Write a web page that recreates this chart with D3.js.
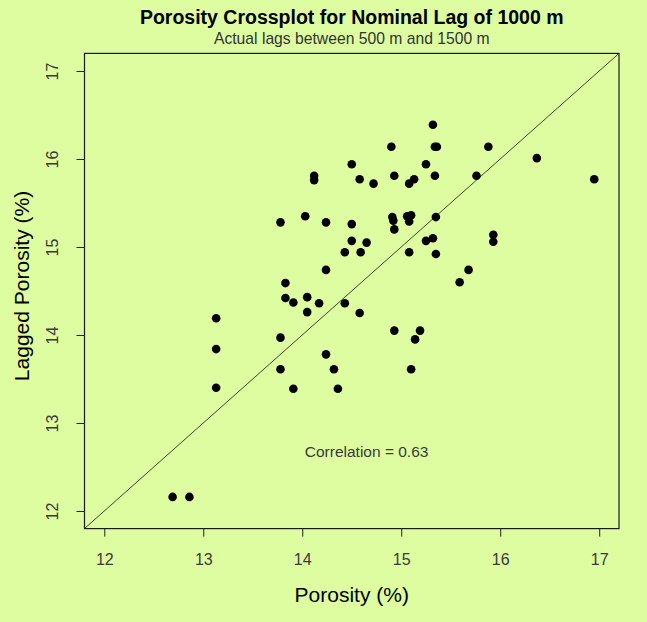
<!DOCTYPE html>
<html>
<head>
<meta charset="utf-8">
<script src="https://cdn.jsdelivr.net/npm/d3@7"></script>
<style>
  html, body { margin: 0; padding: 0; background: #ddfda0; }
  svg { display: block; }
  text { font-family: "Liberation Sans", Arial, sans-serif; }
</style>
</head>
<body>
<script>
// ---- Data ----
const porosity = [12.69,12.86,13.13,13.13,13.13,13.78,13.78,13.78,13.83,13.83,
  13.91,13.91,14.03,14.05,14.05,14.12,14.12,14.17,14.24,14.24,
  14.24,14.32,14.36,14.43,14.43,14.50,14.50,14.50,14.58,14.58,
  14.59,14.65,14.72,14.90,14.91,14.92,14.93,14.93,14.93,15.06,
  15.10,15.08,15.08,15.08,15.13,15.10,15.14,15.19,15.25,15.25,
  15.32,15.32,15.34,15.36,15.34,15.35,15.35,15.59,15.68,15.76,
  15.88,15.93,15.93,16.37,16.95];
const laggedPorosity = [12.16,12.16,14.19,13.84,13.40,15.28,13.97,13.61,14.59,14.42,
  14.37,13.39,15.35,14.43,14.26,15.81,15.76,14.36,15.28,14.74,
  13.78,13.61,13.39,14.36,14.94,15.94,15.26,15.07,15.77,14.25,
  14.94,15.05,15.72,16.14,15.34,15.30,15.20,15.81,14.05,15.35,
  15.36,15.29,14.94,15.72,15.77,13.61,13.95,14.05,15.94,15.07,
  16.39,15.10,16.14,16.14,15.81,15.34,14.92,14.60,14.74,15.81,
  16.14,15.14,15.06,16.01,15.77];
const xTicks = [12, 13, 14, 15, 16, 17];
const yTicks = [12, 13, 14, 15, 16, 17];
const axisDomain = [11.8, 17.2];
const titleText = "Porosity Crossplot for Nominal Lag of 1000 m";
const subtitleText = "Actual lags between 500 m and 1500 m";
const xLabel = "Porosity (%)";
const yLabel = "Lagged Porosity (%)";
const corrLabel = "Correlation = 0.63";
const corrPos = [14.65, 12.68];

// ---- Layout ----
const W = 647, H = 622;
const plot = { left: 84.5, right: 619, top: 53.4, bottom: 528.6 };

const svg = d3.select("body").append("svg").attr("width", W).attr("height", H);
svg.append("rect").attr("width", W).attr("height", H).attr("fill", "#ddfda0");

const x = d3.scaleLinear().domain(axisDomain).range([plot.left, plot.right]);
const y = d3.scaleLinear().domain(axisDomain).range([plot.bottom, plot.top]);

// Diagonal 1:1 line
svg.append("line")
  .attr("x1", x(axisDomain[0])).attr("y1", y(axisDomain[0]))
  .attr("x2", x(axisDomain[1])).attr("y2", y(axisDomain[1]))
  .attr("stroke", "#3a4a2a").attr("stroke-width", 1);

// Points
const pts = porosity.map((v, i) => [v, laggedPorosity[i]]);
svg.append("g").selectAll("circle").data(pts).join("circle")
  .attr("cx", d => x(d[0])).attr("cy", d => y(d[1]))
  .attr("r", 4.3).attr("fill", "#000");

// Box
svg.append("rect")
  .attr("x", plot.left).attr("y", plot.top)
  .attr("width", plot.right - plot.left).attr("height", plot.bottom - plot.top)
  .attr("fill", "none").attr("stroke", "#1a1a1a").attr("stroke-width", 1.2);

// X axis
const gx = svg.append("g").attr("transform", `translate(0,${plot.bottom})`)
  .call(d3.axisBottom(x).tickValues(xTicks).tickSize(8).tickFormat(d3.format("d")));
gx.select(".domain").remove();
gx.selectAll(".tick line").attr("stroke", "#222");
gx.selectAll(".tick text")
  .attr("y", 25).attr("dy", "0.71em")
  .attr("fill", "#3a3a3a").style("font-size", "16px")
  .style("font-family", "'Liberation Sans', Arial, sans-serif");

// Y axis
const gy = svg.append("g").attr("transform", `translate(${plot.left},0)`)
  .call(d3.axisLeft(y).tickValues(yTicks).tickSize(8).tickFormat(d3.format("d")));
gy.select(".domain").remove();
gy.selectAll(".tick line").attr("stroke", "#222");
gy.selectAll(".tick text")
  .attr("transform", "rotate(-90)")
  .attr("x", 0).attr("y", -27).attr("dy", 0)
  .attr("text-anchor", "middle")
  .attr("fill", "#3a3a3a").style("font-size", "16px")
  .style("font-family", "'Liberation Sans', Arial, sans-serif");

// Titles
const cx = (plot.left + plot.right) / 2;
svg.append("text").attr("x", cx).attr("y", 24)
  .attr("text-anchor", "middle").style("font-size", "19.5px").style("font-weight", "bold")
  .attr("fill", "#000").text(titleText);
svg.append("text").attr("x", cx).attr("y", 44)
  .attr("text-anchor", "middle").style("font-size", "15.7px")
  .attr("fill", "#333").text(subtitleText);

// Axis labels
svg.append("text").attr("x", cx).attr("y", 602)
  .attr("text-anchor", "middle").style("font-size", "21px")
  .attr("fill", "#000").text(xLabel);
svg.append("text")
  .attr("transform", `translate(29,${(plot.top + plot.bottom) / 2 - 5}) rotate(-90)`)
  .attr("text-anchor", "middle").style("font-size", "21px")
  .attr("fill", "#000").text(yLabel);

// Correlation annotation
svg.append("text").attr("x", x(corrPos[0])).attr("y", y(corrPos[1]))
  .attr("dy", "0.35em").attr("text-anchor", "middle").style("font-size", "15.5px")
  .attr("fill", "#3a3a3a").text(corrLabel);
</script>
</body>
</html>
